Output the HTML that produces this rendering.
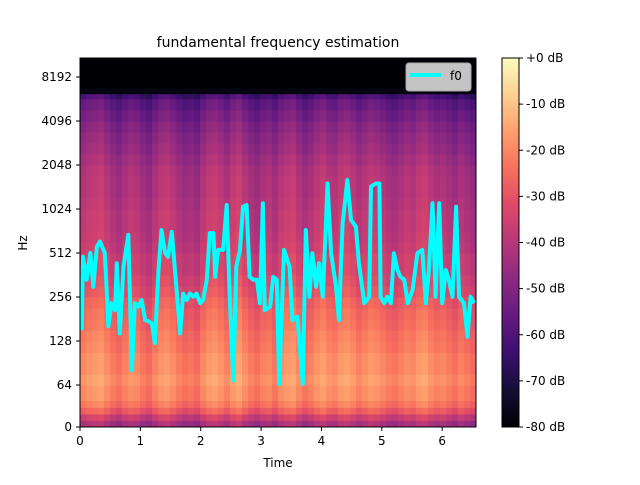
<!DOCTYPE html>
<html><head><meta charset="utf-8">
<style>
html,body{margin:0;padding:0;background:#fff;}
svg text{font-family:"DejaVu Sans","Liberation Sans",sans-serif;font-size:12px;fill:#000;}
</style></head>
<body>
<svg id="chart" width="640" height="480" viewBox="0 0 640 480" xmlns="http://www.w3.org/2000/svg">
  <rect width="640" height="480" fill="#fff"/>
  <defs>
    <linearGradient id="magma" x1="0" y1="1" x2="0" y2="0">
      <stop offset="0" stop-color="#000004"/><stop offset="0.1" stop-color="#140e36"/>
      <stop offset="0.2" stop-color="#3b0f70"/><stop offset="0.3" stop-color="#641a80"/>
      <stop offset="0.4" stop-color="#8c2981"/><stop offset="0.5" stop-color="#b73779"/>
      <stop offset="0.6" stop-color="#de4968"/><stop offset="0.7" stop-color="#f7705c"/>
      <stop offset="0.8" stop-color="#fe9f6d"/><stop offset="0.9" stop-color="#fecf92"/>
      <stop offset="1" stop-color="#fcfdbf"/>
    </linearGradient>
    <clipPath id="plotclip"><rect x="80" y="58" width="396" height="369"/></clipPath>
  </defs>
  <g id="spec" clip-path="url(#plotclip)"></g>
  <g id="f0g" clip-path="url(#plotclip)"></g>
  <rect x="80" y="58" width="396" height="369" fill="none" stroke="#000" stroke-width="1"/>
  <g id="axes"></g>
  <text x="278" y="47" text-anchor="middle" style="font-size:14px">fundamental frequency estimation</text>
  <text x="278" y="467" text-anchor="middle">Time</text>
  <text x="27" y="243" text-anchor="middle" transform="rotate(-90 27 243)">Hz</text>
  <g>
    <rect x="406" y="63" width="65" height="28" rx="3" fill="#cfcfcf" stroke="#b0b0b0" opacity="0.95"/>
    <line x1="410" y1="75" x2="441" y2="75" stroke="#00ffff" stroke-width="4"/>
    <text x="450" y="80">f0</text>
  </g>
  <rect x="502" y="58" width="17" height="369" fill="url(#magma)" stroke="#000" stroke-width="1"/>
  <g id="cbar"></g>
</svg>
<script>
// f0 track (time in s, frequency in Hz)
var f0Times = [0.03,0.05,0.11,0.17,0.22,0.28,0.33,0.39,0.41,0.47,0.52,0.58,0.61,0.66,0.72,0.80,0.86,0.91,0.97,1.02,1.08,1.13,1.19,1.24,1.30,1.35,1.41,1.46,1.52,1.60,1.66,1.71,1.77,1.82,1.88,1.93,1.99,2.04,2.10,2.15,2.21,2.24,2.29,2.37,2.43,2.48,2.54,2.59,2.65,2.70,2.76,2.81,2.87,2.93,2.98,3.03,3.06,3.15,3.20,3.26,3.30,3.38,3.47,3.52,3.60,3.69,3.74,3.80,3.85,3.91,3.96,4.02,4.07,4.10,4.16,4.24,4.29,4.35,4.43,4.49,4.57,4.62,4.71,4.79,4.82,4.90,4.96,4.98,5.04,5.09,5.15,5.20,5.26,5.31,5.37,5.43,5.51,5.59,5.67,5.73,5.78,5.84,5.89,5.95,6.00,6.06,6.11,6.17,6.23,6.28,6.36,6.42,6.47,6.53];
var f0Hz = [152,483,336,512,301,565,613,538,510,161,232,208,436,144,413,681,81,232,220,244,178,175,169,124,391,735,510,483,715,286,144,270,244,270,257,270,232,244,336,700,700,352,538,538,1090,257,69,413,538,1060,1090,352,336,336,232,1120,208,220,352,336,65,538,413,178,188,65,735,257,510,301,436,257,735,1530,510,301,178,816,1617,861,775,436,232,257,1457,1530,1530,257,232,257,232,510,391,352,336,232,286,510,538,232,391,1120,257,1120,232,391,336,257,1060,257,232,137,257,232];
// spectrogram: band edges (Hz), band level (dB), per-time-slice gain (dB)
var bandEdges = [0,10,20,30,40,50,64,76,90,107,128,152,181,215,256,304,362,430,512,609,724,861,1024,1218,1448,1722,2048,2435,2896,3444,4096,4871,5793,6300,6900,8192,11025];
var bandDb = [-45,-38,-30,-25,-22,-22,-20,-22,-22,-24,-25,-27,-28,-30,-33,-35,-37,-37,-39,-40,-41,-41,-42,-43,-43,-44,-46,-48,-50,-52,-55,-58,-64,-78,-80,-80];
var sliceGain = [2,4,5,6,3,0,-2,1,3,2,-1,-3,1,4,5,3,0,-2,-1,-3,2,5,6,4,1,5,7,3,0,-2,1,2,-1,3,5,6,2,-1,1,4,6,3,2,5,6,4,1,3,5,4,2,0,-1,1,3,2,5,6,3,1,2,0,-2,1,-1,-3];
var xTicks = [0,1,2,3,4,5,6];
var yTicks = [0,64,128,256,512,1024,2048,4096,8192];
var cbTicks = [0,-10,-20,-30,-40,-50,-60,-70,-80];

var NS = "http://www.w3.org/2000/svg";
var X0=80, X1=476, Y0=58, Y1=427, TMAX=6.56;
function xs(t){ return X0 + t/TMAX*(X1-X0); }
function ys(f){ if(f<64) return 427 - 42*f/64; return 385 - 44*Math.log2(f/64); }
var stops=[[0,0,0,4],[0.1,20,14,54],[0.2,59,15,112],[0.3,100,26,128],[0.4,140,41,129],[0.5,183,55,121],[0.6,222,73,104],[0.7,247,112,92],[0.8,254,159,109],[0.9,254,207,146],[1,252,253,191]];
function magma(v){ v=Math.max(0,Math.min(1,v));
  for(var i=1;i<stops.length;i++){ if(v<=stops[i][0]){ var a=stops[i-1],b=stops[i],k=(v-a[0])/(b[0]-a[0]);
    return "rgb("+Math.round(a[1]+k*(b[1]-a[1]))+","+Math.round(a[2]+k*(b[2]-a[2]))+","+Math.round(a[3]+k*(b[3]-a[3]))+")"; } }
  return "rgb(252,253,191)"; }
function el(tag, attrs, parent){ var e=document.createElementNS(NS,tag); for(var k in attrs) e.setAttribute(k,attrs[k]); parent.appendChild(e); return e; }

var spec=document.getElementById("spec");
var dt=TMAX/sliceGain.length;
for(var c=0;c<sliceGain.length;c++){
  for(var r=0;r<bandDb.length;r++){
    var db=bandDb[r]; if(db>-75) db=Math.min(0,db+sliceGain[c]);
    var xa=xs(c*dt), xb=xs((c+1)*dt), ya=ys(bandEdges[r+1]), yb=ys(bandEdges[r]);
    var rc=el("rect",{x:xa,y:ya,width:xb-xa+0.5,height:yb-ya+0.5,fill:magma((db+80)/80)},spec);
    
    
  }
}
var pts=f0Times.map(function(t,i){return xs(t).toFixed(1)+","+ys(f0Hz[i]).toFixed(1);}).join(" ");
var pl=el("polyline",{points:pts,fill:"none",stroke:"#00ffff","stroke-width":4,"stroke-linejoin":"round"},document.getElementById("f0g"));



var axes=document.getElementById("axes");
xTicks.forEach(function(t){ var x=xs(t);
  var l=el("line",{x1:x,y1:427,x2:x,y2:431,stroke:"#000"},axes);
  
  
  var tx=el("text",{x:x,y:445,"text-anchor":"middle"},axes); tx.textContent=t;
  
  
});
yTicks.forEach(function(f){ var y=ys(f);
  var l=el("line",{x1:76,y1:y,x2:80,y2:y,stroke:"#000"},axes);
  
  
  var tx=el("text",{x:72,y:y+4,"text-anchor":"end"},axes); tx.textContent=f;
  
  
});
var cb=document.getElementById("cbar");
cbTicks.forEach(function(v){ var y=58+(-v)/80*369;
  var l=el("line",{x1:519,y1:y,x2:523,y2:y,stroke:"#000"},cb);
  
  
  var tx=el("text",{x:526,y:y+4},cb); tx.textContent=(v===0?"+0":v)+" dB";
  
  
});
</script>
</body></html>
